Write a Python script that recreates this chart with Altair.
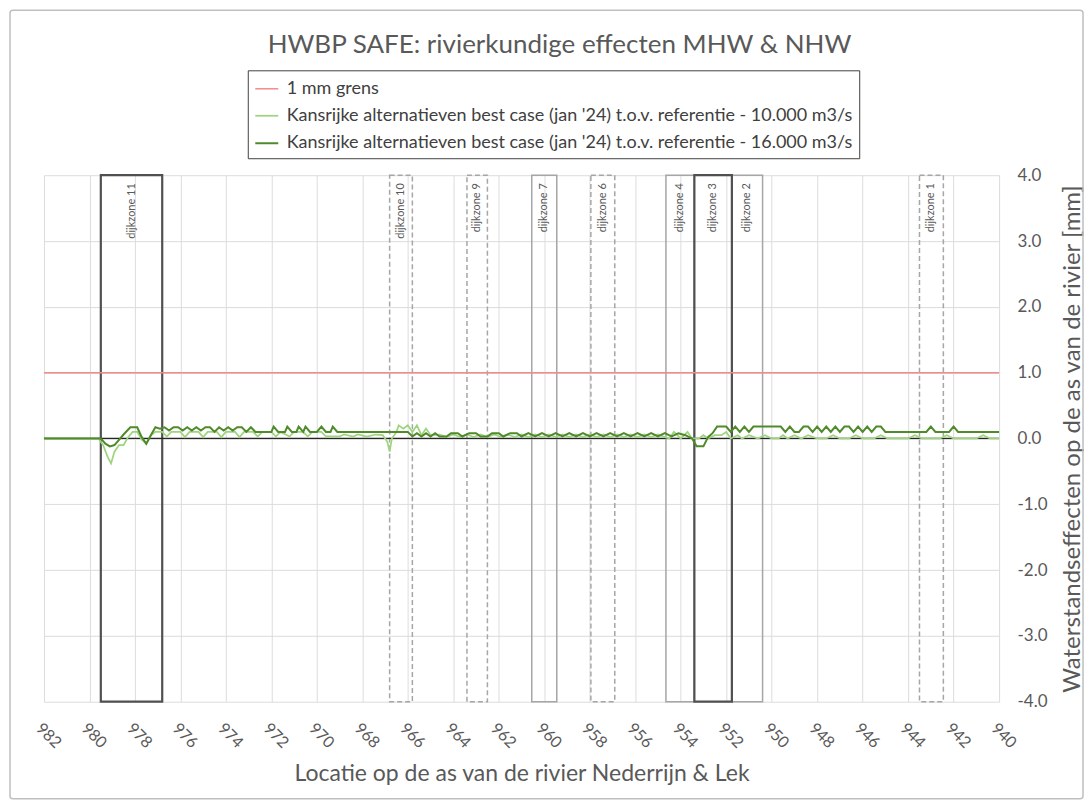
import altair as alt
import pandas as pd

FONT = "Lato"
GREY = "#595959"

TITLE = "HWBP SAFE: rivierkundige effecten MHW & NHW"
X_TITLE = "Locatie op de as van de rivier Nederrijn & Lek"
Y_TITLE = "Waterstandseffecten op de as van de rivier [mm]"

S_GRENS = "1 mm grens"
S_10 = "Kansrijke alternatieven best case (jan '24) t.o.v. referentie - 10.000 m3/s"
S_16 = "Kansrijke alternatieven best case (jan '24) t.o.v. referentie - 16.000 m3/s"

# 1 mm grens
km_grens = [982.0, 940.0]
val_grens = [1.0, 1.0]

# 16.000 m3/s (dark green)
km_16 = [982.0, 979.5, 979.3, 979.1, 978.9, 978.7, 978.5, 978.2, 977.9, 977.7, 977.5, 977.3,
         977.1, 976.9, 976.7, 976.5, 976.3, 976.1, 975.9, 975.7, 975.5, 975.3, 975.1, 974.9,
         974.7, 974.5, 974.3, 974.1, 973.9, 973.7, 973.5, 973.3, 973.1, 972.9, 972.7, 972.5,
         972.2, 972.0, 971.9, 971.7, 971.4, 971.3, 971.1, 970.9, 970.8, 970.6, 970.5, 970.3,
         970.0, 969.8, 969.6, 969.4, 969.3, 969.1, 966.0, 965.8, 965.6, 965.4, 965.2, 965.0,
         964.8, 964.6, 964.3, 964.1, 963.8, 963.6, 963.3, 963.0, 962.8, 962.5, 962.3, 962.0,
         961.8, 961.5, 961.2, 961.0, 960.7, 960.4, 960.1, 959.8, 959.5, 959.2, 958.9, 958.6,
         958.3, 958.0, 957.7, 957.4, 957.1, 956.8, 956.5, 956.2, 955.9, 955.6, 955.3, 955.0,
         954.7, 954.4, 954.1, 953.8, 953.5, 953.3, 953.0, 952.8, 952.6, 952.4, 952.0, 951.8,
         951.6, 951.4, 951.2, 951.0, 950.8, 949.6, 949.4, 949.2, 949.0, 948.8, 948.6, 948.4,
         948.2, 948.0, 947.8, 947.6, 947.4, 947.2, 947.0, 946.8, 946.6, 946.4, 946.2, 946.0,
         945.8, 945.6, 945.4, 945.2, 945.0, 944.6, 943.2, 943.0, 942.8, 942.2, 942.0, 941.8,
         940.0]
val_16 = [0.0, 0.0, -0.08, -0.12, -0.1, -0.02, 0.06, 0.17, 0.17, 0.02, -0.08, 0.05,
          0.17, 0.15, 0.17, 0.12, 0.17, 0.17, 0.12, 0.17, 0.12, 0.17, 0.12, 0.17,
          0.17, 0.1, 0.17, 0.12, 0.17, 0.12, 0.17, 0.17, 0.1, 0.17, 0.1, 0.1,
          0.1, 0.1, 0.18, 0.1, 0.1, 0.18, 0.1, 0.1, 0.18, 0.1, 0.18, 0.1,
          0.1, 0.18, 0.1, 0.1, 0.18, 0.1, 0.1, 0.03, 0.08, 0.03, 0.08, 0.03,
          0.08, 0.03, 0.03, 0.08, 0.08, 0.03, 0.08, 0.08, 0.03, 0.03, 0.08, 0.08,
          0.03, 0.08, 0.08, 0.03, 0.08, 0.03, 0.08, 0.03, 0.08, 0.03, 0.08, 0.03,
          0.08, 0.03, 0.08, 0.03, 0.08, 0.03, 0.08, 0.03, 0.08, 0.03, 0.08, 0.03,
          0.08, 0.03, 0.08, 0.05, 0.0, -0.12, -0.12, 0.02, 0.08, 0.18, 0.18, 0.1,
          0.18, 0.1, 0.18, 0.1, 0.18, 0.18, 0.1, 0.18, 0.1, 0.1, 0.18, 0.18,
          0.1, 0.18, 0.1, 0.18, 0.1, 0.18, 0.1, 0.18, 0.18, 0.1, 0.18, 0.1,
          0.18, 0.1, 0.18, 0.18, 0.1, 0.1, 0.1, 0.18, 0.1, 0.1, 0.18, 0.1,
          0.1]

# 10.000 m3/s (light green)
km_10 = [982.0, 979.6, 979.4, 979.2, 979.05, 978.9, 978.7, 978.5, 978.3, 978.1, 977.9, 977.7,
         977.5, 977.3, 977.1, 976.8, 976.6, 976.4, 976.0, 975.8, 975.6, 975.2, 975.0, 974.8,
         974.4, 974.2, 974.0, 973.6, 973.4, 973.2, 972.8, 972.6, 972.4, 972.0, 971.8, 971.6,
         971.2, 971.0, 970.6, 970.4, 970.2, 969.8, 969.6, 969.0, 968.8, 968.4, 968.2, 967.8,
         967.4, 967.1, 966.9, 966.8, 966.7, 966.5, 966.4, 966.2, 966.0, 965.8, 965.6, 965.4,
         965.2, 965.0, 964.6, 964.3, 964.0, 963.7, 963.4, 963.1, 962.8, 962.5, 962.2, 961.9,
         961.6, 961.3, 961.0, 960.7, 960.4, 960.1, 959.8, 959.5, 959.2, 958.9, 958.6, 958.3,
         958.0, 957.7, 957.4, 957.1, 956.8, 956.5, 956.2, 955.9, 955.6, 955.3, 955.0, 954.7,
         954.5, 954.3, 954.0, 953.7, 953.5, 953.2, 953.0, 952.8, 952.5, 952.2, 952.0, 951.8,
         951.5, 951.3, 951.0, 950.6, 950.3, 950.0, 949.7, 949.5, 949.3, 949.0, 948.7, 948.4,
         948.0, 947.6, 947.3, 947.0, 946.6, 946.3, 946.0, 945.5, 945.2, 944.9, 944.0, 943.7,
         943.4, 942.6, 942.3, 942.0, 941.0, 940.7, 940.4, 940.0]
val_10 = [0.0, 0.0, -0.1, -0.28, -0.38, -0.2, -0.1, -0.1, 0.02, 0.1, 0.1, -0.02,
          -0.08, 0.05, 0.1, 0.1, 0.03, 0.1, 0.1, 0.02, 0.1, 0.1, 0.02, 0.1,
          0.1, 0.02, 0.1, 0.1, 0.02, 0.1, 0.1, 0.03, 0.1, 0.1, 0.03, 0.1,
          0.03, 0.1, 0.1, 0.03, 0.1, 0.1, 0.03, 0.03, 0.06, 0.03, 0.06, 0.03,
          0.06, 0.05, -0.05, -0.2, 0.0, 0.1, 0.2, 0.15, 0.2, 0.1, 0.2, 0.05,
          0.15, 0.05, 0.06, 0.02, 0.06, 0.02, 0.06, 0.02, 0.06, 0.02, 0.06, 0.02,
          0.06, 0.02, 0.06, 0.02, 0.06, 0.02, 0.06, 0.02, 0.06, 0.02, 0.06, 0.02,
          0.06, 0.02, 0.06, 0.02, 0.06, 0.02, 0.06, 0.02, 0.06, 0.02, 0.06, 0.02,
          0.0, 0.1, 0.0, 0.1, 0.0, 0.0, 0.05, 0.0, 0.05, 0.05, 0.1, 0.0,
          0.05, 0.0, 0.05, 0.0, 0.05, 0.0, 0.0, 0.05, 0.0, 0.05, 0.0, 0.05,
          0.0, 0.0, 0.05, 0.0, 0.0, 0.05, 0.0, 0.0, 0.05, 0.0, 0.0, 0.05,
          0.0, 0.0, 0.05, 0.0, 0.0, 0.05, 0.0, 0.0]

# dijkzones
zone_names = ["dijkzone 11", "dijkzone 10", "dijkzone 9", "dijkzone 7", "dijkzone 6",
              "dijkzone 4", "dijkzone 3", "dijkzone 2", "dijkzone 1"]
zone_start = [979.5, 966.8, 963.4, 960.55, 957.95, 954.65, 953.4, 951.75, 943.5]
zone_end = [976.8, 965.8, 962.5, 959.45, 956.9, 953.4, 951.75, 950.4, 942.45]
zone_style = ["dik", "stippel", "stippel", "dun", "stippel", "dun", "dik", "dun", "stippel"]

series_order = [S_GRENS, S_10, S_16]
series_colors = ["#f28b8b", "#9fd47f", "#4f8a2b"]

lines_df = pd.concat([
    pd.DataFrame({"km": km_grens, "waarde": val_grens, "reeks": S_GRENS}),
    pd.DataFrame({"km": km_10, "waarde": val_10, "reeks": S_10}),
    pd.DataFrame({"km": km_16, "waarde": val_16, "reeks": S_16}),
], ignore_index=True)

zones_df = pd.DataFrame({"zone": zone_names, "start": zone_start, "eind": zone_end, "stijl": zone_style})
one_df = pd.DataFrame({"titel": [TITLE]})

W, H = 956, 527

x_scale = alt.Scale(domain=[940, 982], reverse=True, nice=False, zero=False)
y_scale = alt.Scale(domain=[-4, 4], nice=False)

x_axis = alt.Axis(
    values=list(range(940, 983)),
    labelExpr="datum.value % 2 == 0 ? datum.label : ''",
    format="d", labelAngle=45, labelFont=FONT, labelFontSize=16, labelColor=GREY,
    labelPadding=18, ticks=False, domain=False, grid=True, gridColor="#dcdcdc",
    title=X_TITLE, titleFont=FONT, titleFontSize=23, titleFontWeight="normal",
    titleColor=GREY, titlePadding=12,
)
y_axis = alt.Axis(
    orient="right",
    values=[-4, -3.5, -3, -2.5, -2, -1.5, -1, -0.5, 0, 0.5, 1, 1.5, 2, 2.5, 3, 3.5, 4],
    labelExpr="datum.value % 1 == 0 ? replace(format(datum.value, '.1f'), '\u2212', '-') : ''",
    labelFont=FONT, labelFontSize=17, labelColor=GREY, labelPadding=18,
    ticks=False, domain=False, grid=True, gridColor="#dcdcdc",
    title=Y_TITLE, titleFont=FONT, titleFontSize=24, titleFontWeight="normal",
    titleColor=GREY, titleAngle=270, titleBaseline="top", titlePadding=13,
)

frame = alt.Chart(one_df).mark_rect(
    fill="transparent", stroke="#bfbfbf", strokeWidth=1.5, cornerRadius=3
).encode(
    x=alt.value(-34), x2=alt.value(1040), y=alt.value(-165), y2=alt.value(624)
)

title_mark = alt.Chart(one_df).mark_text(
    font=FONT, fontSize=26, color=GREY, align="center", baseline="middle"
).encode(
    x=alt.value(516), y=alt.value(-130), text="titel:N"
)

zone_base = alt.Chart(zones_df).encode(
    x=alt.X("start:Q", scale=x_scale, axis=x_axis),
    x2="eind:Q",
    y=alt.datum(4.0, scale=y_scale, axis=y_axis),
    y2=alt.datum(-4.0),
)
zones_dun = zone_base.transform_filter(alt.datum.stijl == "dun").mark_rect(
    fill="transparent", stroke="#a6a6a6", strokeWidth=1.5)
zones_stip = zone_base.transform_filter(alt.datum.stijl == "stippel").mark_rect(
    fill="transparent", stroke="#a6a6a6", strokeWidth=1.5, strokeDash=[5, 3])
zones_dik = zone_base.transform_filter(alt.datum.stijl == "dik").mark_rect(
    fill="transparent", stroke="#505050", strokeWidth=2.2)

zone_labels = alt.Chart(zones_df).transform_calculate(
    midden="(datum.start + datum.eind) / 2"
).mark_text(
    angle=270, align="right", baseline="middle", dx=-8, font=FONT, fontSize=11, color=GREY
).encode(
    x=alt.X("midden:Q", scale=x_scale),
    y=alt.datum(4.0),
    text="zone:N",
)

zero_rule = alt.Chart(one_df).mark_rule(color="#262626", strokeWidth=1.2).encode(
    y=alt.datum(0.0)
)

lines = alt.Chart(lines_df).mark_line(interpolate="linear").encode(
    x=alt.X("km:Q", scale=x_scale),
    y=alt.Y("waarde:Q", scale=y_scale),
    color=alt.Color(
        "reeks:N",
        scale=alt.Scale(domain=series_order, range=series_colors),
        sort=series_order,
        legend=alt.Legend(
            title=None, orient="none", legendX=204, legendY=-105, direction="vertical",
            strokeColor="#404040", fillColor="white", padding=6,
            labelFont=FONT, labelFontSize=18, labelColor="#404040", labelLimit=1000,
            labelOffset=7, symbolType="stroke", symbolSize=530, symbolStrokeWidth=2,
            rowPadding=5,
        ),
    ),
    strokeWidth=alt.StrokeWidth(
        "reeks:N", scale=alt.Scale(domain=series_order, range=[1.5, 2, 2.2]), legend=None
    ),
    order=alt.Order("km:Q"),
)

chart = alt.layer(
    frame, zones_dun, zones_stip, zones_dik, zone_labels, zero_rule, lines, title_mark
).resolve_scale(x="shared", y="shared").properties(
    width=W, height=H,
    autosize=alt.AutoSizeParams(type="none"),
    padding={"left": 36, "top": 167, "right": 85, "bottom": 98},
    background="white",
).configure_view(stroke=None)

chart.save("out.html", embed_options={"renderer": "svg", "actions": False})
